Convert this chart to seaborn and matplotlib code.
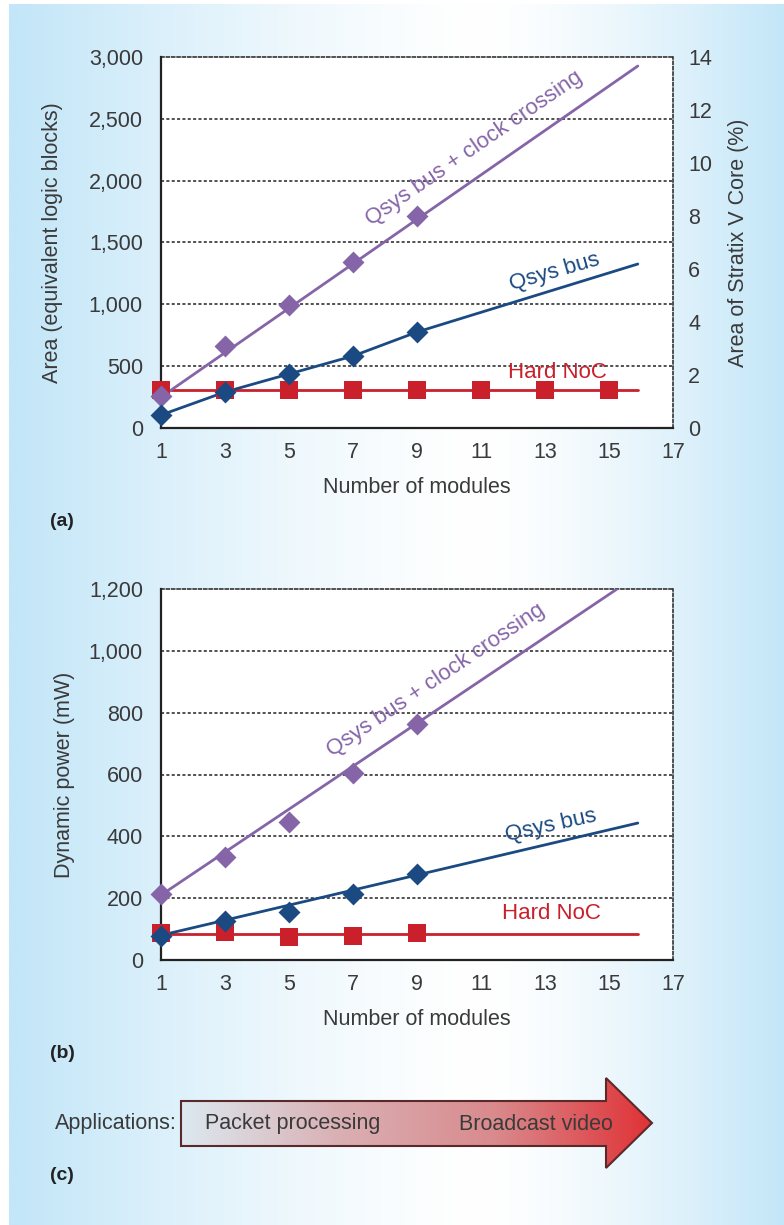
import numpy as np
import pandas as pd
import seaborn as sns
import matplotlib.pyplot as plt
from matplotlib.patches import Polygon
from matplotlib.colors import LinearSegmentedColormap

# ---- data ----
modules = [1, 3, 5, 7, 9]
noc_modules_a = [1, 3, 5, 7, 9, 11, 13, 15]

# (a) area, equivalent logic blocks
area_clock = [259, 663, 995, 1342, 1714]
area_bus = [105, 291, 437, 582, 776]
area_noc = [305, 305, 305, 305, 305, 305, 305, 305]
area_clock_fit_x = [1, 15.9]
area_clock_fit = [250, 2927]
area_bus_fit_x = [1, 3, 5, 7, 9, 15.9]
area_bus_fit = [105, 291, 437, 582, 776, 1326]
area_noc_fit_x = [1, 15.9]
area_noc_fit = [305, 305]

# (b) dynamic power, mW
power_clock = [213, 333, 446, 605, 763]
power_bus = [78, 126, 155, 213, 278]
power_noc = [87, 91, 74, 78, 87]
power_clock_fit_x = [1, 15.9]
power_clock_fit = [210, 1245]
power_bus_fit_x = [1, 15.9]
power_bus_fit = [80, 443]
power_noc_fit_x = [1, 15.9]
power_noc_fit = [85, 85]

x_ticks = [1, 3, 5, 7, 9, 11, 13, 15, 17]
area_ticks = [0, 500, 1000, 1500, 2000, 2500, 3000]
pct_ticks = [0, 2, 4, 6, 8, 10, 12, 14]
power_ticks = [0, 200, 400, 600, 800, 1000, 1200]

PURPLE = '#8565a8'
BLUE = '#1b4a82'
RED = '#c9202c'
TXT = '#3a3a3a'

sns.set_style('white')
plt.rcParams['font.family'] = ['Liberation Sans', 'DejaVu Sans']

W, H = 784, 1225
fig = plt.figure(figsize=(W / 100, H / 100), dpi=100, facecolor='white')

# background gradient (light blue edges, white middle)
bg = fig.add_axes([0, 0, 1, 1])
bg.set_zorder(-1)
bg.set_xlim(0, W)
bg.set_ylim(H, 0)
bg.axis('off')
xs = np.arange(W)
t = np.where(xs < 480, (480 - xs) / 471.0, (xs - 480) / 304.0)
t = np.clip(t, 0, 1) ** 1.4
edge = np.array([0xc3, 0xe6, 0xf8]) / 255.0
row = (1 - t)[:, None] * np.ones(3) + t[:, None] * edge
bg.imshow(row[None, :, :], extent=[9, W, H, 4], aspect='auto', zorder=0)


def style_axes(ax, ymax, yticks):
    ax.set_facecolor('white')
    ax.set_xlim(1, 17)
    ax.set_ylim(0, ymax)
    ax.set_xticks(x_ticks)
    ax.set_yticks(yticks)
    ax.set_yticklabels([f'{v:,}' for v in yticks])
    ax.tick_params(axis='both', length=0, labelsize=15.5, colors=TXT)
    ax.tick_params(axis='y', pad=13)
    ax.tick_params(axis='x', pad=10)
    for s in ['left', 'bottom']:
        ax.spines[s].set_color('#222222')
        ax.spines[s].set_linewidth(1.6)
    for s in ['top', 'right']:
        ax.spines[s].set_color('#222222')
        ax.spines[s].set_linewidth(1.1)
        ax.spines[s].set_linestyle((0, (2, 1.5)))
    for v in yticks[1:-1]:
        ax.axhline(v, color='#222222', lw=1.1, ls=(0, (2, 1.5)), zorder=1)
    ax.set_xlabel('Number of modules', fontsize=15.5, color=TXT)
    ax.xaxis.set_label_coords(0.5, -0.133)


def draw_series(ax, fx, fy, mx, my, color, marker, ms):
    sns.lineplot(x=fx, y=fy, ax=ax, color=color, lw=2.0, zorder=3, clip_on=True)
    sns.scatterplot(x=mx, y=my, ax=ax, color=color, marker=marker, s=ms,
                    edgecolor=color, linewidth=0, zorder=4, clip_on=False)


# ---- (a) area ----
ax1 = fig.add_axes([161 / W, 1 - 428 / H, 512 / W, 371 / H])
style_axes(ax1, 3000, area_ticks)
draw_series(ax1, area_noc_fit_x, area_noc_fit, noc_modules_a, area_noc, RED, 's', 150)
draw_series(ax1, area_clock_fit_x, area_clock_fit, modules, area_clock, PURPLE, 'D', 125)
draw_series(ax1, area_bus_fit_x, area_bus_fit, modules, area_bus, BLUE, 'D', 125)
ax1.set_ylabel('Area (equivalent logic blocks)', fontsize=15.5, color=TXT)
ax1.yaxis.set_label_coords(-0.191, 0.5)
ax1.text(10.8, 2260, 'Qsys bus + clock crossing', color=PURPLE, fontsize=16,
         rotation=34.5, ha='center', va='center')
ax1.text(13.3, 1261, 'Qsys bus', color=BLUE, fontsize=16, rotation=16,
         ha='center', va='center')
ax1.text(13.4, 445, 'Hard NoC', color=RED, fontsize=16, ha='center', va='center')

ax1b = ax1.twinx()
ax1b.set_ylim(0, 14)
ax1b.set_yticks(pct_ticks)
ax1b.tick_params(axis='y', length=0, labelsize=15.5, colors=TXT, pad=11)
for s in ax1b.spines.values():
    s.set_visible(False)
ax1b.set_ylabel('Area of Stratix V Core (%)', fontsize=15.5, color=TXT)
ax1b.yaxis.set_label_coords(1.107, 0.5)

# ---- (b) power ----
ax2 = fig.add_axes([161 / W, 1 - 960 / H, 512 / W, 371 / H])
style_axes(ax2, 1200, power_ticks)
draw_series(ax2, power_noc_fit_x, power_noc_fit, modules, power_noc, RED, 's', 150)
draw_series(ax2, power_clock_fit_x, power_clock_fit, modules, power_clock, PURPLE, 'D', 125)
draw_series(ax2, power_bus_fit_x, power_bus_fit, modules, power_bus, BLUE, 'D', 125)
ax2.set_ylabel('Dynamic power (mW)', fontsize=15.5, color=TXT)
ax2.yaxis.set_label_coords(-0.168, 0.5)
ax2.text(9.6, 906, 'Qsys bus + clock crossing', color=PURPLE, fontsize=16,
         rotation=34, ha='center', va='center')
ax2.text(13.2, 433, 'Qsys bus', color=BLUE, fontsize=16, rotation=12.5,
         ha='center', va='center')
ax2.text(13.2, 152, 'Hard NoC', color=RED, fontsize=16, ha='center', va='center')

# panel labels
fig.text(50 / W, 1 - 522 / H, '(a)', fontsize=14, fontweight='bold', color='#222222', va='center')
fig.text(50 / W, 1 - 1053 / H, '(b)', fontsize=14, fontweight='bold', color='#222222', va='center')
fig.text(50 / W, 1 - 1175 / H, '(c)', fontsize=14, fontweight='bold', color='#222222', va='center')

# ---- (c) applications arrow ----
arrow_pts = [(181, 1101), (606, 1101), (606, 1078), (652, 1123),
             (606, 1168), (606, 1146), (181, 1146)]
poly = Polygon(arrow_pts, closed=True, facecolor='none', edgecolor='#5a2a2a',
               lw=1.5, zorder=3)
bg.add_patch(poly)
grad_cmap = LinearSegmentedColormap.from_list(
    'arr', ['#dce9f0', '#d9b0b4', '#d98a8d', '#e03236'])
grad = np.linspace(0, 1, 256)[None, :]
im = bg.imshow(grad, cmap=grad_cmap, extent=[181, 652, 1168, 1078],
               aspect='auto', zorder=2)
im.set_clip_path(poly)
bg.set_xlim(0, W)
bg.set_ylim(H, 0)
bg.text(177, 1124, 'Applications:', fontsize=15.5, color=TXT, ha='right', va='center')
bg.text(205, 1124, 'Packet processing', fontsize=15.5, color=TXT, ha='left', va='center')
bg.text(459, 1124, 'Broadcast video', fontsize=15.5, color=TXT, ha='left', va='center')

fig.savefig('out.png', dpi=100, facecolor='white')
